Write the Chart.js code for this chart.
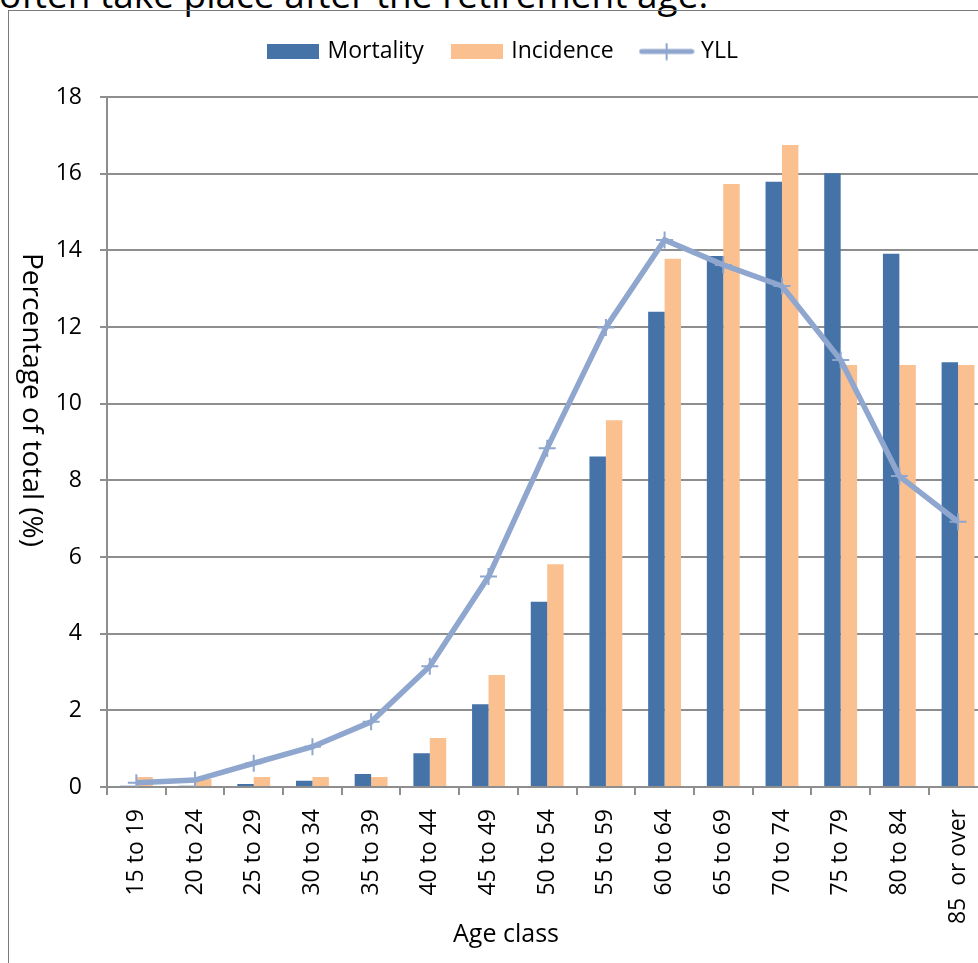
<!DOCTYPE html>
<html>
<head>
<meta charset="utf-8">
<script src="https://cdn.jsdelivr.net/npm/chart.js@4/dist/chart.umd.min.js"></script>
<style>
  html, body { margin: 0; padding: 0; background: #fff; width: 978px; height: 963px; overflow: hidden; }
  #lead { position: absolute; left: -1px; top: -25px; font: 37px/37px 'Open Sans', sans-serif; color: #000; white-space: nowrap; }
  #frame { position: absolute; left: 8px; top: 10px; width: 1100px; height: 1100px; border-left: 1px solid #7a7a7a; border-top: 1px solid #7a7a7a; }
  #chart { position: absolute; left: 8px; top: 10px; }
</style>
</head>
<body>
<div id="lead">often take place after the retirement age.</div>
<div id="frame"></div>
<canvas id="chart" width="992" height="953"></canvas>
<script>
// Age classes on the category axis
const ageClasses = ['15 to 19', '20 to 24', '25 to 29', '30 to 34', '35 to 39', '40 to 44', '45 to 49',
  '50 to 54', '55 to 59', '60 to 64', '65 to 69', '70 to 74', '75 to 79', '80 to 84', '85  or over'];

// Share of total (%) per age class
const mortality = [0.03, 0.03, 0.08, 0.16, 0.34, 0.88, 2.16, 4.83, 8.62, 12.40, 13.85, 15.79, 16.01, 13.91, 11.08];
const incidence = [0.26, 0.21, 0.26, 0.26, 0.26, 1.28, 2.92, 5.81, 9.57, 13.78, 15.73, 16.75, 11.01, 11.01, 11.01];
const yll       = [0.11, 0.18, 0.62, 1.05, 1.70, 3.15, 5.49, 8.84, 11.99, 14.27, 13.62, 13.07, 11.14, 8.11, 6.92];

// Value axis ticks
const yTicks = [0, 2, 4, 6, 8, 10, 12, 14, 16, 18];

const seriesNames = ['Mortality', 'Incidence', 'YLL'];
const COLORS = { mortality: '#4572A7', incidence: '#FAC08F', yll: '#8FA6CE' };
const GRID = '#8e8e8e';
const FONT = "'Open Sans', sans-serif";

// Legend icons: filled swatches for the bars, a line with a cross for YLL
function swatch(color) {
  const c = document.createElement('canvas');
  c.width = 52; c.height = 15;
  const g = c.getContext('2d');
  g.fillStyle = color;
  g.fillRect(0, 0, 52, 15);
  return c;
}
function lineSwatch(color) {
  const c = document.createElement('canvas');
  c.width = 56; c.height = 18;
  const g = c.getContext('2d');
  g.strokeStyle = color;
  g.lineCap = 'round';
  g.lineWidth = 5;
  g.beginPath(); g.moveTo(3, 9); g.lineTo(53, 9); g.stroke();
  g.lineCap = 'butt';
  g.lineWidth = 2;
  g.beginPath(); g.moveTo(28, 0.5); g.lineTo(28, 17.5); g.moveTo(19.5, 9); g.lineTo(36.5, 9); g.stroke();
  return c;
}
const legendIcons = [swatch(COLORS.mortality), swatch(COLORS.incidence), lineSwatch(COLORS.yll)];

// Reserve a fixed band above the plot for the legend
const legendSpace = {
  id: 'legendSpace',
  beforeInit(chart) {
    const fit = chart.legend.fit;
    chart.legend.fit = function () {
      fit.call(this);
      this.height = 87;
    };
  }
};

// Axis captions
const captions = {
  id: 'captions',
  afterDraw(chart, args, opts) {
    const ctx = chart.ctx;
    opts.items.forEach(it => {
      ctx.save();
      ctx.font = it.font;
      ctx.fillStyle = '#000';
      ctx.textAlign = 'center';
      ctx.textBaseline = 'middle';
      ctx.translate(it.x, it.y);
      ctx.rotate(it.rotation || 0);
      ctx.fillText(it.text, 0, 0);
      ctx.restore();
    });
  }
};

new Chart(document.getElementById('chart'), {
  data: {
    labels: ageClasses,
    datasets: [
      { type: 'bar', label: seriesNames[0], data: mortality, backgroundColor: COLORS.mortality, order: 1,
        categoryPercentage: 0.56, barPercentage: 1.0 },
      { type: 'bar', label: seriesNames[1], data: incidence, backgroundColor: COLORS.incidence, order: 1,
        categoryPercentage: 0.56, barPercentage: 1.0 },
      { type: 'line', label: seriesNames[2], data: yll, borderColor: COLORS.yll, borderWidth: 5.5,
        tension: 0, fill: false, order: 0,
        pointStyle: 'cross', pointRadius: 8.5, pointBorderWidth: 2,
        pointBorderColor: COLORS.yll, pointBackgroundColor: COLORS.yll }
    ]
  },
  options: {
    responsive: false,
    animation: false,
    layout: { padding: { left: 10, right: 10, top: 0, bottom: 0 } },
    plugins: {
      tooltip: { enabled: false },
      legend: {
        position: 'top',
        labels: {
          usePointStyle: true,
          pointStyleWidth: 46,
          boxHeight: 15,
          padding: 30,
          color: '#000',
          font: { family: FONT, size: 23 },
          generateLabels(chart) {
            return chart.data.datasets.map((ds, i) => ({
              text: ds.label,
              pointStyle: legendIcons[i],
              fillStyle: 'transparent',
              strokeStyle: 'transparent',
              lineWidth: 0,
              fontColor: '#000',
              hidden: false,
              datasetIndex: i
            }));
          }
        }
      },
      captions: {
        items: [
          { text: 'Age class', x: 498, y: 925, font: `25px ${FONT}` },
          { text: 'Percentage of total (%)', x: 23, y: 390, rotation: Math.PI / 2, font: `28px ${FONT}` }
        ]
      }
    },
    scales: {
      x: {
        type: 'category',
        offset: true,
        afterFit(scale) { scale.height = 176; },
        grid: { offset: true, drawOnChartArea: false, drawTicks: true, tickLength: 8, color: GRID, lineWidth: 2 },
        border: { color: GRID, width: 2 },
        ticks: { minRotation: 90, maxRotation: 90, autoSkip: false, padding: 14, color: '#000',
          font: { family: FONT, size: 23 } },
        title: { display: false }
      },
      y: {
        min: 0,
        max: 18,
        afterFit(scale) { scale.width = 89; },
        afterBuildTicks(scale) { scale.ticks = yTicks.map(v => ({ value: v })); },
        grid: { color: GRID, lineWidth: 2, tickLength: 7, drawTicks: true },
        border: { color: GRID, width: 2 },
        ticks: { padding: 18, color: '#000', font: { family: FONT, size: 23 } },
        title: { display: false }
      }
    }
  },
  plugins: [legendSpace, captions]
});
</script>
</body>
</html>
